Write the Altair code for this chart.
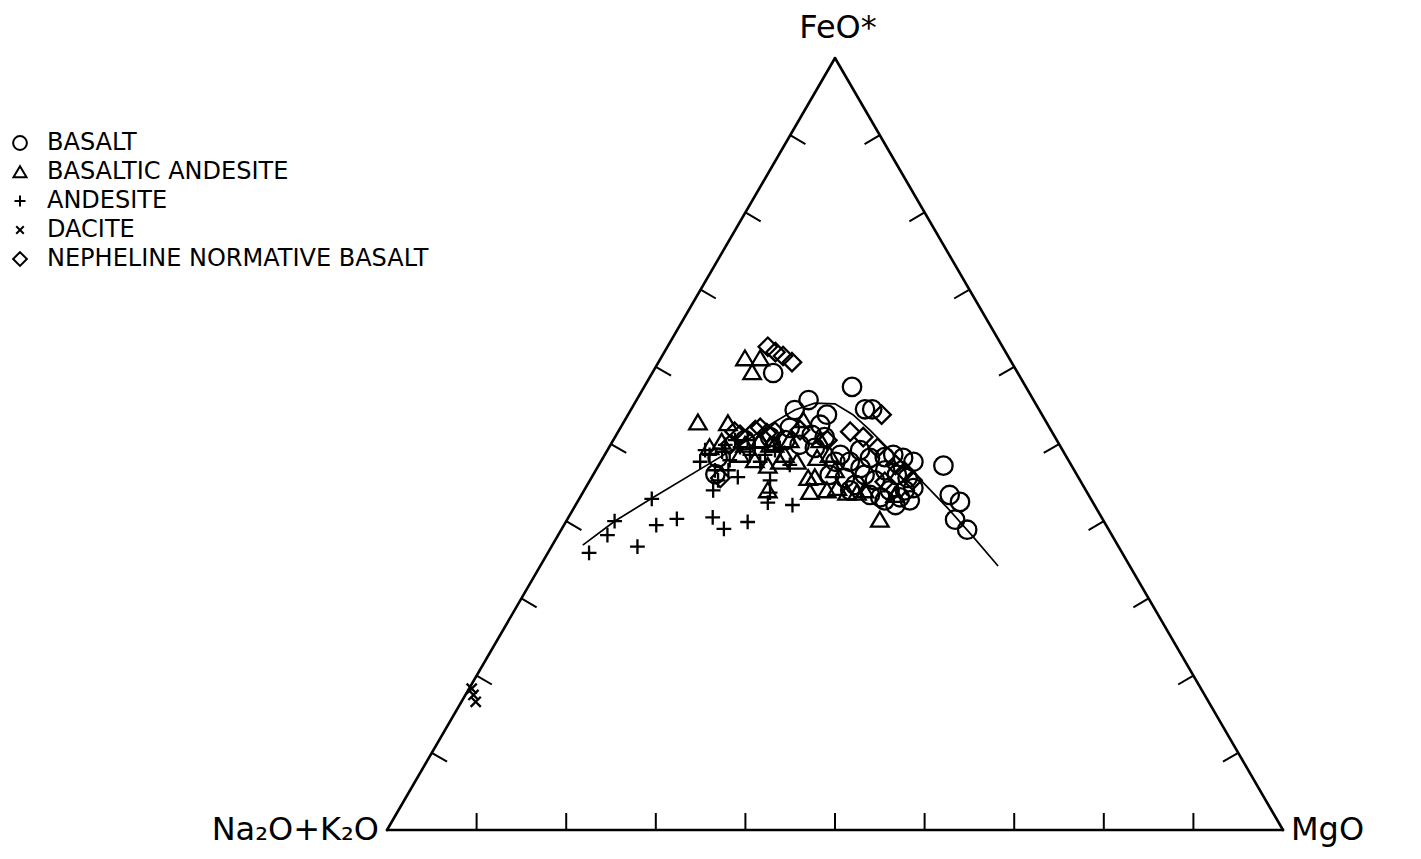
import altair as alt
import pandas as pd

# ---- data: compositions in percent (FeO* = F, MgO = M, Na2O+K2O = 100 - F - M)
rock_types = ["BASALT", "BASALTIC ANDESITE", "ANDESITE", "DACITE", "NEPHELINE NORMATIVE BASALT"]

basalt_F = [59.2, 57.4, 54.5, 54.5, 55.7, 53.8, 47.2, 43.4, 42.5, 40.2, 38.9, 48.6, 48.2, 47.7, 46.6, 46.0,
            45.6, 44.3, 44.0, 43.1, 42.7, 43.1, 42.1, 43.4, 45.3, 46.9, 48.2, 48.3, 44.0, 42.7, 49.9, 49.5,
            50.9, 48.6, 47.7, 45.6, 46.0, 52.1, 52.5, 49.2, 44.7, 51.2, 54.4, 48.2, 46.1, 50.5, 50.9, 50.5,
            47.7, 44.0, 46.0]
basalt_M = [13.5, 23.2, 26.1, 26.9, 19.2, 22.2, 38.5, 41.1, 42.7, 43.3, 45.3, 32.2, 33.5, 34.9, 32.3, 33.9,
            35.3, 36.6, 34.1, 35.7, 37.0, 33.5, 35.7, 32.2, 31.8, 29.4, 29.8, 31.4, 35.8, 34.2, 21.1, 23.0,
            23.4, 26.3, 27.8, 28.3, 26.4, 18.9, 22.1, 28.2, 29.9, 21.8, 18.3, 12.8, 13.6, 14.7, 17.3, 19.2,
            26.2, 29.7, 30.3]

bas_andesite_F = [61.1, 61.1, 59.3, 52.8, 52.7, 47.2, 44.0, 47.7, 47.7, 53.1, 48.2, 45.7, 44.0, 44.3, 43.7, 43.7,
                  43.8, 40.2, 50.5, 49.9, 48.6, 50.5, 48.6, 44.0, 45.6, 50.3, 49.6, 46.6, 50.5, 49.9, 43.4,
                  49.9, 48.6, 47.9]
bas_andesite_M = [9.4, 11.1, 11.1, 8.3, 11.7, 18.9, 20.5, 20.0, 21.9, 19.9, 23.9, 24.9, 27.1, 28.1, 29.5, 30.6,
                  25.3, 34.9, 16.4, 15.0, 15.1, 19.7, 25.1, 31.3, 24.2, 12.2, 11.2, 26.7, 23.1, 18.3, 35.0,
                  17.8, 20.1, 17.1]

andesite_F = [35.9, 38.2, 40.0, 36.7, 42.9, 39.5, 40.3, 40.5, 39.0, 39.9, 42.4, 42.1, 43.7, 44.0, 45.3, 45.7,
              46.6, 48.6, 47.9, 48.6, 47.7, 49.6, 47.7, 49.9, 49.2, 47.3, 45.3,
              49.2, 49.0, 50.5, 50.5, 49.5, 46.6, 48.6, 49.5]
andesite_M = [4.6, 5.5, 5.4, 9.6, 8.1, 10.3, 12.2, 16.1, 18.1, 20.3, 21.3, 24.2, 20.9, 14.4, 14.3, 16.3,
              13.3, 11.7, 14.3, 16.2, 17.8, 14.6, 11.1, 12.8, 18.7, 21.3, 20.1,
              10.9, 12.9, 13.6, 15.0, 16.3, 14.8, 17.9, 19.1]

dacite_F = [18.3, 17.5, 16.6]
dacite_M = [0.3, 0.9, 1.6]

nepheline_F = [62.6, 61.9, 61.4, 60.6, 53.8, 51.6, 49.5, 50.9, 50.5, 51.8, 51.4, 51.2, 45.6, 47.3, 46.4, 45.3,
               51.8, 45.1, 51.6, 52.1, 51.6, 49.9]
nepheline_M = [11.2, 12.4, 13.5, 14.9, 28.3, 25.9, 30.0, 27.7, 23.9, 15.2, 16.7, 13.8, 14.4, 33.1, 34.6, 36.0,
               20.2, 33.0, 13.0, 15.6, 17.5, 13.3]

trend_F = [36.9, 40.0, 43.0, 47.3, 49.9, 52.5, 54.4, 55.3, 55.2, 53.8, 51.8, 49.2, 45.7, 41.8, 38.0, 34.2]
trend_M = [3.4, 5.4, 8.1, 12.1, 14.5, 16.5, 18.3, 20.1, 22.4, 25.1, 28.0, 31.5, 36.4, 41.6, 46.4, 51.1]

tick_values = [10, 20, 30, 40, 50, 60, 70, 80, 90]
vertex_labels = ["FeO*", "Na₂O+K₂O", "MgO"]


# ---- ternary projection: x along base (side = 100), y = FeO* (height = 100)
def tx(F, M):
    return M + F / 2.0


groups = [(basalt_F, basalt_M), (bas_andesite_F, bas_andesite_M), (andesite_F, andesite_M),
          (dacite_F, dacite_M), (nepheline_F, nepheline_M)]
rows = []
for name, (Fs, Ms) in zip(rock_types, groups):
    for F, M in zip(Fs, Ms):
        rows.append({"x": tx(F, M), "y": F, "rock": name, "NaK": round(100 - F - M, 1), "FeO": F, "MgO": M})
pts = pd.DataFrame(rows)

trend = pd.DataFrame({"x": [tx(F, M) for F, M in zip(trend_F, trend_M)], "y": trend_F,
                      "o": list(range(len(trend_F)))})

# triangle frame
edges = pd.DataFrame({"x": [0, 0, 100], "y": [0, 0, 0], "x2": [100, 50, 50], "y2": [0, 100, 100]})

# ticks (perpendicular, pointing inward)
TL_Y = 2.2      # vertical tick length in FeO units
TL_DX = 1.7     # inclined tick components
TL_DY = 1.15
tk = []
for v in tick_values:
    tk.append({"x": v, "y": 0, "x2": v, "y2": TL_Y})
    tk.append({"x": v / 2.0, "y": v, "x2": v / 2.0 + TL_DX, "y2": v - TL_DY})
    tk.append({"x": 100 - v / 2.0, "y": v, "x2": 100 - v / 2.0 - TL_DX, "y2": v - TL_DY})
ticks = pd.DataFrame(tk)

labels = pd.DataFrame({"x": [50, 0, 100], "y": [100, 0, 0], "t": vertex_labels,
                       "pos": ["top", "left", "right"]})

W, H = 1400, 840
xs = alt.Scale(domain=[-42.30, 113.95], nice=False, zero=False)
ys = alt.Scale(domain=[-2.33, 106.48], nice=False, zero=False)
X = lambda f="x": alt.X(f"{f}:Q", scale=xs, axis=None)
Y = lambda f="y": alt.Y(f"{f}:Q", scale=ys, axis=None)

frame = alt.Chart(edges).mark_rule(color="black", strokeWidth=2.6, strokeCap="round").encode(
    x=X(), y=Y(), x2="x2:Q", y2="y2:Q")
tick_layer = alt.Chart(ticks).mark_rule(color="black", strokeWidth=2).encode(
    x=X(), y=Y(), x2="x2:Q", y2="y2:Q")
trend_layer = alt.Chart(trend).mark_line(color="black", strokeWidth=1.7).encode(
    x=X(), y=Y(), order="o:Q")

shape_range = [
    "circle",
    "M0,-0.85L0.95,0.75L-0.95,0.75Z",
    "M-0.8,0H0.8M0,-0.8V0.8",
    "M-0.55,-0.55L0.55,0.55M-0.55,0.55L0.55,-0.55",
    "M0,-1L1,0L0,1L-1,0Z",
]
points = alt.Chart(pts).mark_point(filled=False, color="black", strokeWidth=2.3, size=340, opacity=1).encode(
    x=X(), y=Y(),
    shape=alt.Shape("rock:N", scale=alt.Scale(domain=rock_types, range=shape_range),
                    legend=alt.Legend(title=None, orient="none", legendX=0, legendY=123,
                                      labelFontSize=24, labelFont="DejaVu Sans", labelColor="black",
                                      symbolSize=190, symbolStrokeWidth=2, symbolStrokeColor="black",
                                      symbolFillColor="transparent", rowPadding=5, labelOffset=15,
                                      padding=0, labelLimit=800)),
    tooltip=["rock:N", "NaK:Q", "FeO:Q", "MgO:Q"],
)

lab_top = alt.Chart(labels[labels.pos == "top"]).mark_text(
    fontSize=32, font="DejaVu Sans", color="black", align="center", baseline="alphabetic", dx=3, dy=-20
).encode(x=X(), y=Y(), text="t:N")
lab_left = alt.Chart(labels[labels.pos == "left"]).mark_text(
    fontSize=32, font="DejaVu Sans", color="black", align="right", baseline="middle", dx=-8, dy=0
).encode(x=X(), y=Y(), text="t:N")
lab_right = alt.Chart(labels[labels.pos == "right"]).mark_text(
    fontSize=32, font="DejaVu Sans", color="black", align="left", baseline="middle", dx=8, dy=0
).encode(x=X(), y=Y(), text="t:N")

chart = alt.layer(frame, tick_layer, trend_layer, points, lab_top, lab_left, lab_right).properties(
    width=W, height=H, padding={"left": 0, "top": 0, "right": 0, "bottom": 6},
    autosize=alt.AutoSizeParams(type="none"),
    background="white",
).configure_view(stroke=None)

chart.save("out.html", embed_options={"renderer": "svg", "actions": False})
